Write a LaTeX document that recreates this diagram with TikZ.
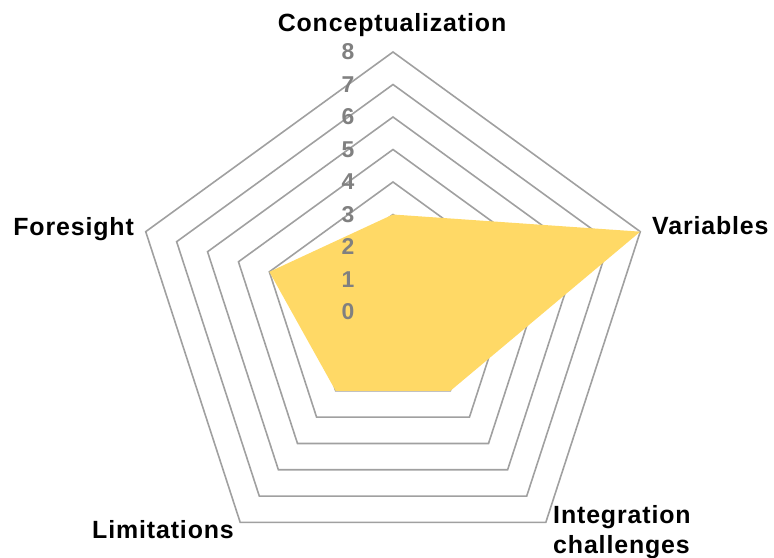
\documentclass[tikz,border=0pt]{standalone}
\usepackage{fontspec}
\setmainfont{Liberation Sans}
\newfontfamily\labfont[LetterSpace=3.5]{Liberation Sans}
\definecolor{gridgray}{RGB}{160,160,160}
\definecolor{fillgold}{RGB}{255,217,102}
\definecolor{numgray}{RGB}{128,128,128}
\begin{document}
\begin{tikzpicture}[x=1bp,y=-1bp,
  grid/.style={draw=gridgray,line width=1.6bp,line join=miter},
  axlabel/.style={font=\labfont\fontsize{25}{30}\selectfont\bfseries,text=black,inner sep=0pt},
  numlabel/.style={font=\fontsize{23}{23}\selectfont\bfseries,text=numgray,inner sep=0pt}]
\useasboundingbox (0,0) rectangle (774,558);
% vertices of grid pentagons
\foreach \l in {1,...,8}{
  \foreach \k in {0,...,4}{
    \coordinate (v\l-\k) at ({393+\l*32.5*cos(90-72*\k)},{312-\l*32.5*sin(90-72*\k)});
  }
  \draw[grid] (v\l-0) -- (v\l-1) -- (v\l-2) -- (v\l-3) -- (v\l-4) -- cycle;
}
% data polygon
\fill[fillgold] (v3-0) -- (v8-1) -- (v3-2) -- (v3-3) -- (v4-4) -- cycle;
% scale numbers
\foreach \i in {0,...,8}{
  \node[numlabel] (n\i) at (348,{312-32.5*\i}) {\i};
}
% axis labels
\node[axlabel,anchor=base] (lc) at (392,31.5) {Conceptualization};
\node[axlabel,anchor=base west] (lv) at (652,235) {Variables};
\node[axlabel,anchor=base east] (lf) at (134,235.5) {Foresight};
\node[axlabel,anchor=base] (ll) at (163,538) {Limitations};
\node[axlabel,anchor=base west,align=left] (li) at (553,553) {Integration\\challenges};
\end{tikzpicture}
\end{document}
